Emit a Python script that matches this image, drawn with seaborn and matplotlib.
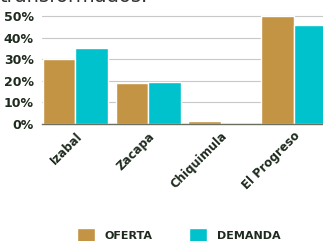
import pandas as pd
import matplotlib.pyplot as plt
import seaborn as sns
from matplotlib.patches import Patch

sns.set_theme(style="whitegrid")
plt.rcParams['font.family'] = ['DejaVu Sans']

# data
departamentos = ["Izabal", "Zacapa", "Chiquimula", "El Progreso"]
oferta = [30, 19, 1.2, 50]
demanda = [35, 19.5, 0, 46]

GOLD = "#C29444"
CYAN = "#00C2CC"
TEXT = "#1e2a1e"

df = pd.DataFrame({
    "Departamento": departamentos * 2,
    "Tipo": ["OFERTA"] * len(departamentos) + ["DEMANDA"] * len(departamentos),
    "Valor": oferta + demanda,
})

fig = plt.figure(figsize=(3.23, 2.41), dpi=100)
ax = fig.add_axes([42 / 323, 117 / 241, 288.3 / 323, 110.2 / 241])

sns.barplot(data=df, x="Departamento", y="Valor", hue="Tipo",
            palette=[GOLD, CYAN], saturation=1, width=0.9,
            edgecolor="white", linewidth=1, legend=False, ax=ax)

ax.set_xlim(-0.46, 3.5)
ax.set_ylim(0, 51)
ax.set_yticks([0, 10, 20, 30, 40, 50])
ax.set_yticklabels([f"{v}%" for v in [0, 10, 20, 30, 40, 50]],
                   fontsize=9, fontweight="bold", color=TEXT)
ax.set_xticks(range(len(departamentos)))
ax.set_xticklabels(departamentos, rotation=45, ha="right",
                   rotation_mode="anchor", fontsize=8.5,
                   fontweight="bold", color=TEXT)
ax.tick_params(axis="y", length=0, pad=6)
ax.tick_params(axis="x", length=0, pad=4)
ax.set_xlabel("")
ax.set_ylabel("")

ax.set_facecolor("white")
ax.grid(axis="x", visible=False)
ax.grid(axis="y", color="#c8c8c8", linewidth=0.8)
for side in ["top", "right", "left"]:
    ax.spines[side].set_visible(False)
ax.spines["bottom"].set_color("#6b6f60")
ax.spines["bottom"].set_linewidth(1.0)

# last line of the intro text, cut off at the top as in the source
fig.text(0.0, 1 - 1.5 / 241, "transformados.", fontsize=14, color="#333333",
         va="baseline", ha="left")

handles = [Patch(facecolor=GOLD, label="OFERTA"),
           Patch(facecolor=CYAN, label="DEMANDA")]
fig.legend(handles=handles, loc="upper left",
           bbox_to_anchor=(67 / 323, 1 - 218 / 241), ncol=2, frameon=False,
           prop={"weight": "bold", "size": 8}, labelcolor=TEXT,
           handlelength=1.6, handleheight=1.6, columnspacing=3.3,
           handletextpad=0.9)

fig.savefig("out.png", dpi=100)
